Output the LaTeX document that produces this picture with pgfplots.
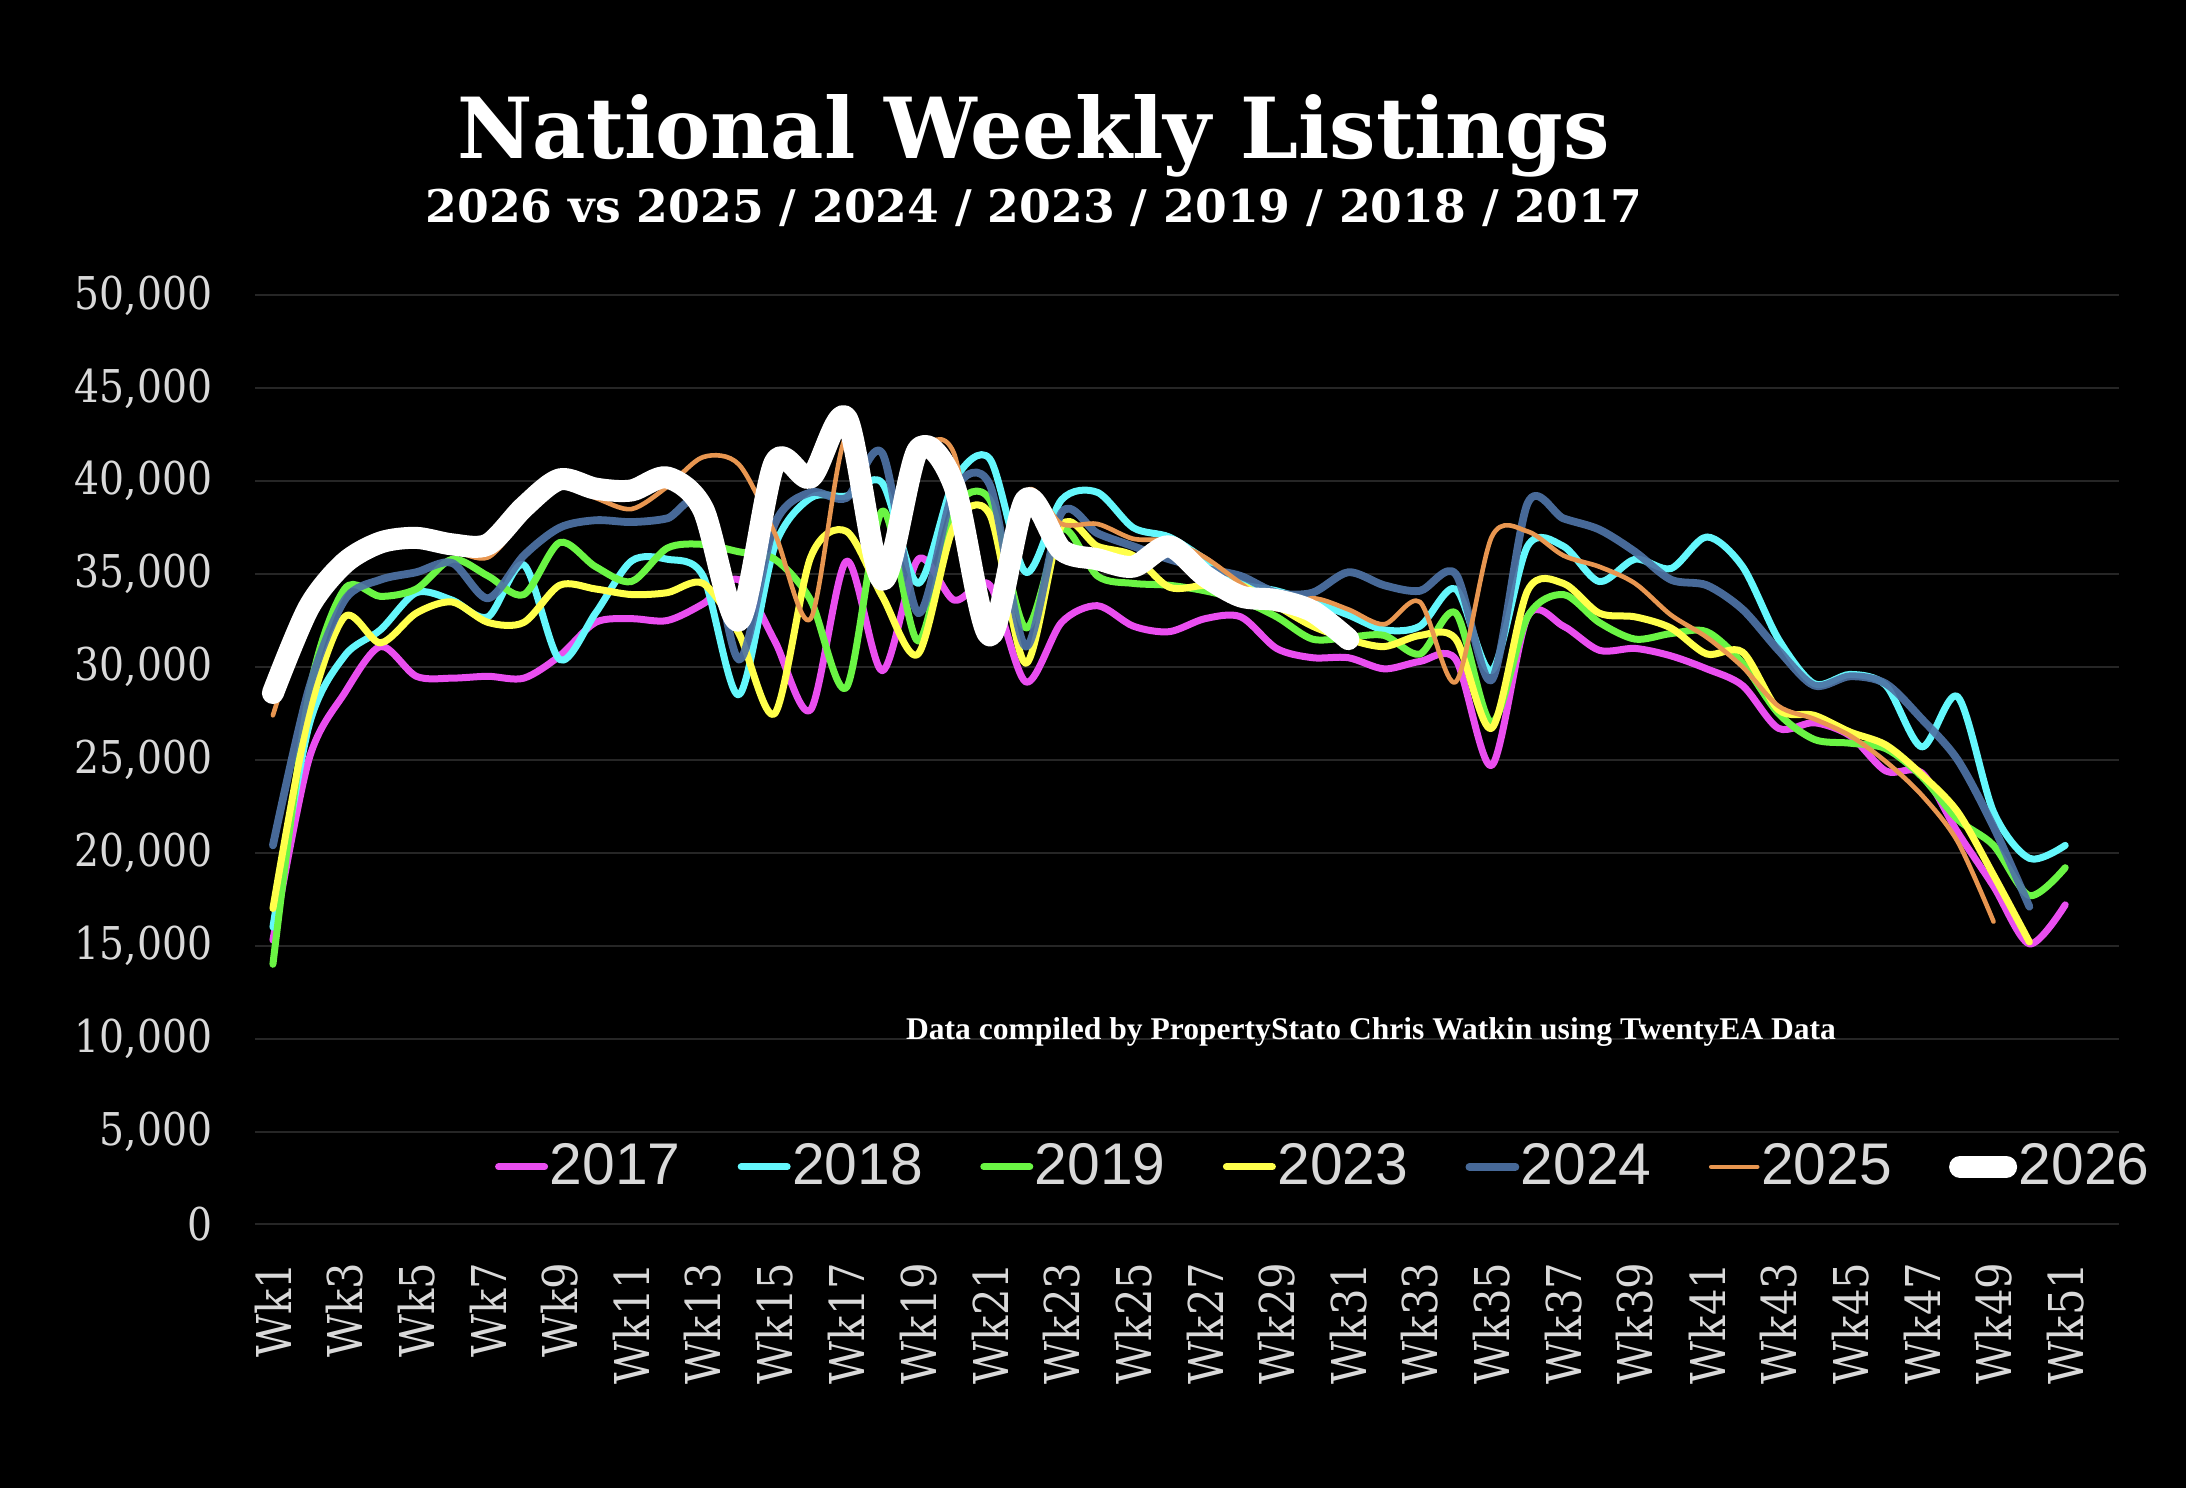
\documentclass[border=0pt]{standalone}
\usepackage{pgfplots}
\pgfplotsset{compat=1.18}
\usepackage{fontspec}
\usepackage{graphicx}
\setmainfont{DejaVu Serif}
\newfontfamily\tickfont[FakeStretch=0.87]{DejaVu Serif}
\newfontfamily\legfont{Liberation Sans}
\newfontfamily\notefont{Liberation Serif}
\definecolor{c17}{RGB}{234,78,240}
\definecolor{c18}{RGB}{100,247,252}
\definecolor{c19}{RGB}{106,245,68}
\definecolor{c23}{RGB}{255,255,75}
\definecolor{c24}{RGB}{78,115,165}
\definecolor{c25}{RGB}{232,150,80}
\definecolor{gridc}{RGB}{38,38,38}
\definecolor{labc}{RGB}{217,217,217}
\begin{document}
\begin{tikzpicture}
\fill[black] (0,0) rectangle (546.5bp,372bp);
\path[use as bounding box] (0,0) rectangle (546.5bp,372bp);
\node[anchor=base, text=white, inner sep=0pt] at (258.4bp,332.3bp) {\resizebox{288bp}{16bp}{\bfseries National Weekly Listings}};
\node[anchor=base, text=white, inner sep=0pt] at (258.4bp,316.25bp) {\resizebox{304bp}{8.35bp}{\bfseries 2026 vs 2025 / 2024 / 2023 / 2019 / 2018 / 2017}};
\begin{axis}[
  at={(63.75bp,65.9bp)}, anchor=south west, scale only axis,
  width=466bp, height=232.25bp,
  xmin=0.5, xmax=52.5, ymin=0, ymax=50000,
  clip=false,
  axis line style={draw=none},
  major tick style={draw=none},
  ymajorgrids, grid style={draw=gridc, line width=0.5bp},
  ytick={0,5000,...,50000},
  scaled y ticks=false,
  /pgf/number format/1000 sep={,},
  /pgf/number format/assume math mode=true,
  yticklabel style={font={\tickfont\fontsize{11.3bp}{13bp}\selectfont}, text=labc, inner sep=0pt, anchor=east},
  yticklabel shift=10.5bp,
  xtick={1,3,...,51},
  xticklabels={Wk1,Wk3,Wk5,Wk7,Wk9,Wk11,Wk13,Wk15,Wk17,Wk19,Wk21,Wk23,Wk25,Wk27,Wk29,Wk31,Wk33,Wk35,Wk37,Wk39,Wk41,Wk43,Wk45,Wk47,Wk49,Wk51},
  xticklabel style={font={\tickfont\fontsize{12bp}{14bp}\selectfont}, text=labc, inner sep=0pt, rotate=90, anchor=east},
  xticklabel shift=9.4bp,
  every axis plot/.append style={smooth, tension=0.5, line cap=round, line join=round},
  legend columns=7,
  legend style={at={(0.1288,0.062)}, anchor=west, draw=none, fill=none, inner sep=0pt, outer sep=0pt,
    nodes={inner sep=0pt, text=labc, font={\legfont\fontsize{14.7bp}{16bp}\selectfont}},
    column sep=0pt,
    /tikz/every odd column/.append style={column sep=0.4bp},
    /tikz/every even column/.append style={column sep=14.3bp}},
  legend image code/.code={\draw[#1] (0bp,0bp) -- (11.5bp,0bp);},
]
\addplot[c17, line width=1.75bp] coordinates {
(1,15300) (2,25000) (3,28600) (4,31100) (5,29500) (6,29400) (7,29500) (8,29400) (9,30600) (10,32400)
(11,32600) (12,32500) (13,33400) (14,34700) (15,31400) (16,27700) (17,35700) (18,29800) (19,35800) (20,33600)
(21,34400) (22,29200) (23,32400) (24,33300) (25,32200) (26,31900) (27,32600) (28,32700) (29,31000) (30,30500)
(31,30500) (32,29900) (33,30300) (34,30400) (35,24700) (36,32700) (37,32200) (38,30900) (39,31000) (40,30600)
(41,29900) (42,29000) (43,26700) (44,27000) (45,26300) (46,24400) (47,24300) (48,21100) (49,18200) (50,15100) (51,17200)};
\addlegendentry{2017}
\addplot[c18, line width=1.75bp] coordinates {
(1,16000) (2,26800) (3,30600) (4,32000) (5,34000) (6,33600) (7,32700) (8,35500) (9,30400) (10,32900)
(11,35700) (12,35800) (13,34900) (14,28500) (15,36500) (16,39100) (17,39200) (18,39900) (19,34500) (20,40000)
(21,41200) (22,35100) (23,39000) (24,39400) (25,37500) (26,37000) (27,35800) (28,34500) (29,34100) (30,33500)
(31,32800) (32,32000) (33,32200) (34,34200) (35,29800) (36,36500) (37,36500) (38,34600) (39,35800) (40,35300)
(41,37000) (42,35400) (43,31500) (44,29100) (45,29600) (46,29000) (47,25700) (48,28400) (49,22200) (50,19700) (51,20400)};
\addlegendentry{2018}
\addplot[c19, line width=1.75bp] coordinates {
(1,14000) (2,28500) (3,34200) (4,33800) (5,34200) (6,35800) (7,34900) (8,33900) (9,36700) (10,35400)
(11,34600) (12,36400) (13,36600) (14,36200) (15,35800) (16,33600) (17,28900) (18,38400) (19,31400) (20,38400)
(21,39000) (22,32100) (23,37400) (24,34900) (25,34500) (26,34400) (27,34100) (28,33600) (29,32700) (30,31500)
(31,31600) (32,31700) (33,30700) (34,32900) (35,27000) (36,32700) (37,33900) (38,32400) (39,31500) (40,31800)
(41,31900) (42,30200) (43,27500) (44,26100) (45,25900) (46,25600) (47,24100) (48,21800) (49,20400) (50,17700) (51,19200)};
\addlegendentry{2019}
\addplot[c23, line width=1.75bp] coordinates {
(1,17000) (2,27400) (3,32700) (4,31300) (5,32900) (6,33500) (7,32400) (8,32400) (9,34400) (10,34200)
(11,33900) (12,34000) (13,34500) (14,31800) (15,27500) (16,35900) (17,37300) (18,33800) (19,30700) (20,37600)
(21,38200) (22,30200) (23,37600) (24,36500) (25,36000) (26,34300) (27,34400) (28,34400) (29,33300) (30,32200)
(31,31500) (32,31100) (33,31700) (34,31500) (35,26700) (36,34100) (37,34500) (38,32900) (39,32700) (40,32100)
(41,30700) (42,30800) (43,27700) (44,27400) (45,26500) (46,25800) (47,24200) (48,22200) (49,18800) (50,15200)};
\addlegendentry{2023}
\addplot[c24, line width=1.95bp, opacity=0.92] coordinates {
(1,20400) (2,28800) (3,33600) (4,34700) (5,35100) (6,35600) (7,33700) (8,36000) (9,37500) (10,37900)
(11,37800) (12,38000) (13,38700) (14,30400) (15,37700) (16,39400) (17,39100) (18,41500) (19,32900) (20,39500)
(21,39800) (22,31100) (23,38300) (24,37200) (25,36500) (26,35800) (27,35300) (28,34900) (29,34000) (30,34000)
(31,35100) (32,34400) (33,34100) (34,35000) (35,29300) (36,38800) (37,38000) (38,37400) (39,36200) (40,34700)
(41,34400) (42,33100) (43,30900) (44,29000) (45,29500) (46,29100) (47,27200) (48,25000) (49,21400) (50,17100)};
\addlegendentry{2024}
\addplot[c25, line width=1.15bp] coordinates {
(1,27400) (2,33000) (3,35300) (4,36300) (5,36700) (6,36300) (7,35900) (8,38000) (9,39800) (10,39100)
(11,38500) (12,39700) (13,41300) (14,40900) (15,37200) (16,32600) (17,42400) (18,35000) (19,41300) (20,41500)
(21,31800) (22,39400) (23,37700) (24,37700) (25,36900) (26,36800) (27,35900) (28,34500) (29,33100) (30,33700)
(31,33100) (32,32300) (33,33500) (34,29200) (35,37000) (36,37300) (37,36000) (38,35400) (39,34500) (40,32800)
(41,31600) (42,30000) (43,27900) (44,27200) (45,26300) (46,24900) (47,23100) (48,20600) (49,16300)};
\addlegendentry{2025}
\addplot[white, line width=5.5bp] coordinates {
(1,28600) (2,33200) (3,35600) (4,36700) (5,36950) (6,36600) (7,36600) (8,38600) (9,40100) (10,39600)
(11,39500) (12,40200) (13,38500) (14,32500) (15,41000) (16,40200) (17,43400) (18,34700) (19,41700) (20,39800)
(21,31700) (22,39000) (23,36300) (24,35800) (25,35400) (26,36500) (27,34900) (28,33800) (29,33600) (30,33000) (31,31500)};
\addlegendentry{2026}
\end{axis}
\node[anchor=base, text=white, inner sep=0pt] at (342.75bp,112bp) {\resizebox{232.5bp}{!}{\notefont\bfseries Data compiled by PropertyStato Chris Watkin using TwentyEA Data}};
\end{tikzpicture}
\end{document}
